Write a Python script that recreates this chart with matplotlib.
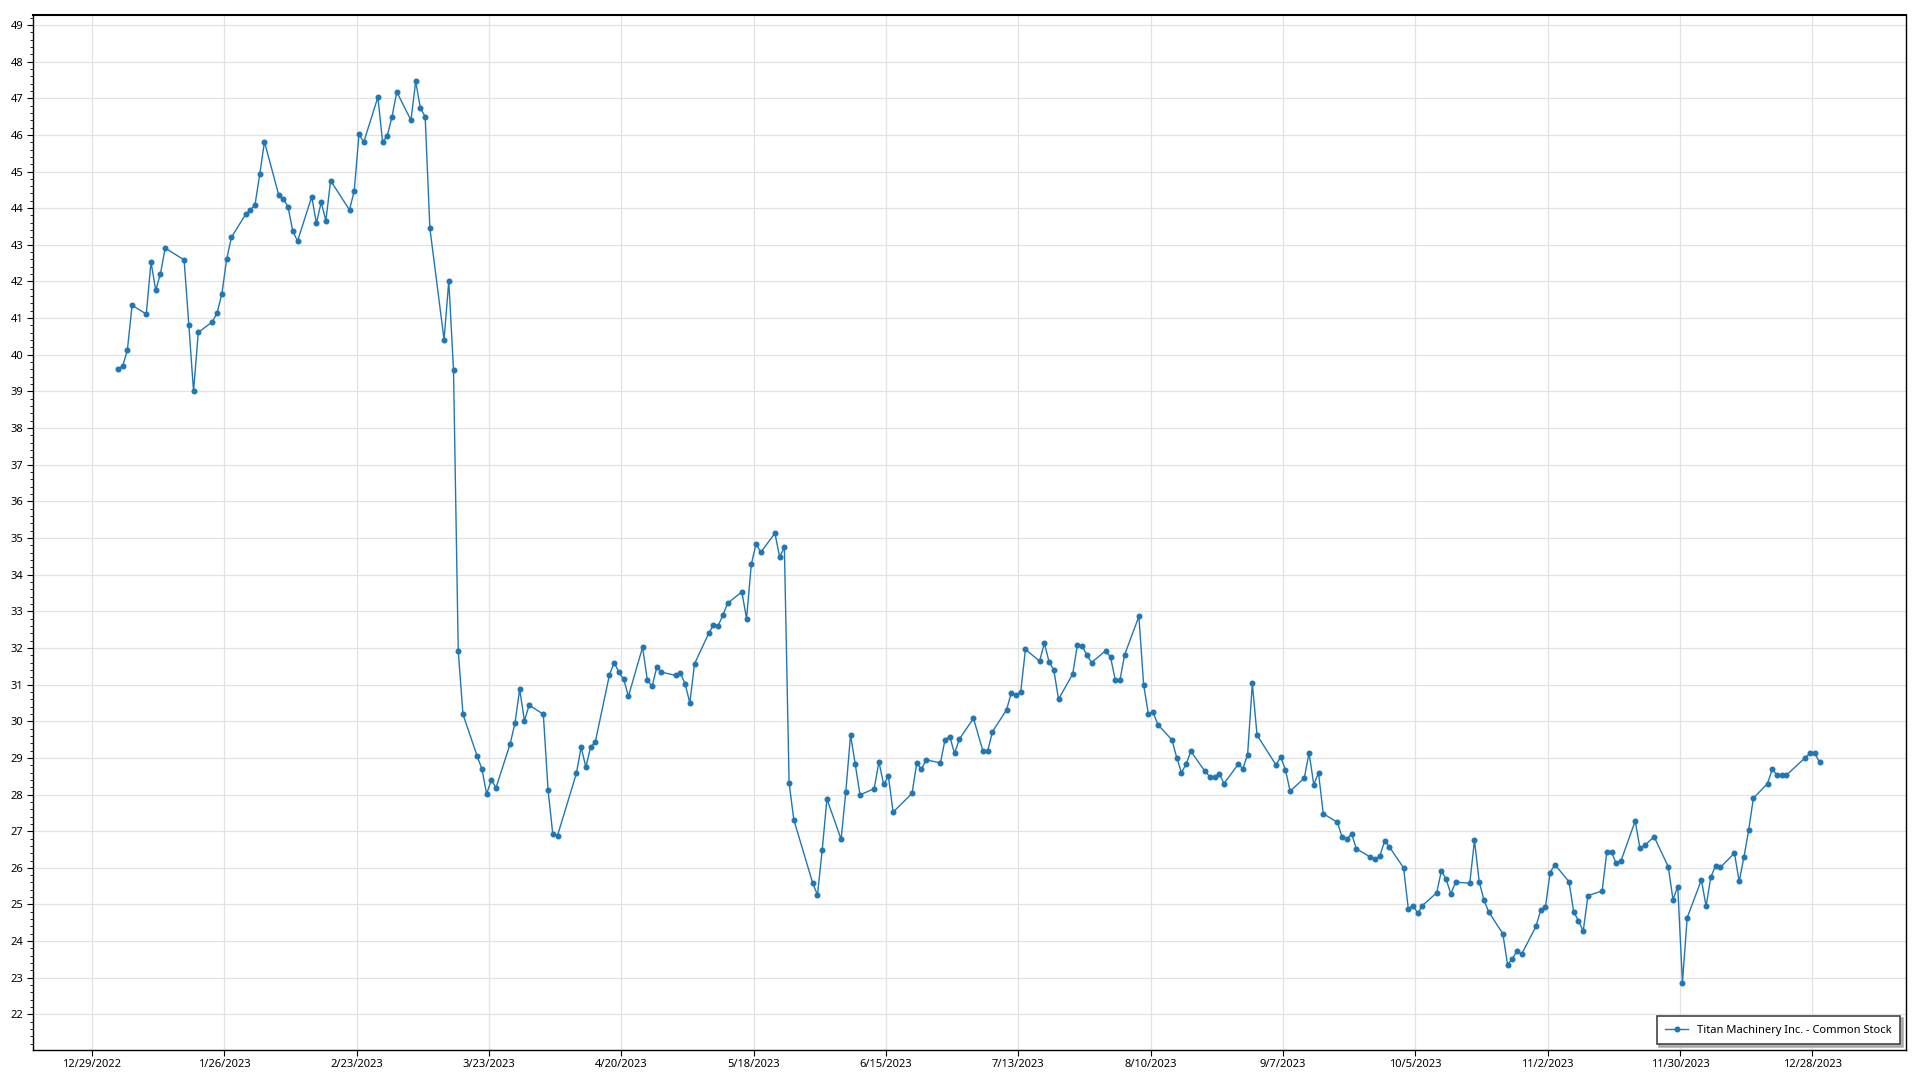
import matplotlib
matplotlib.use("Agg")
import matplotlib.pyplot as plt
import matplotlib.ticker as mticker
import numpy as np
import pandas as pd

# closing prices 2023, one list per month (trading days only)
jan = [39.61, 39.69, 40.13, 41.35, 41.11, 42.53, 41.76, 42.21, 42.91, 42.59,
       40.82, 39.00, 40.61, 40.90, 41.15, 41.67, 42.60, 43.20, 43.83, 43.95]
feb = [44.09, 44.92, 45.81, 44.37, 44.26, 44.03, 43.37, 43.10, 44.31, 43.59,
       44.16, 43.66, 44.75, 43.95, 44.48, 46.02, 45.80, 47.03, 45.80]
mar = [45.98, 46.50, 47.17, 46.40, 47.46, 46.72, 46.50, 43.45, 40.41, 42.01,
       39.59, 31.92, 30.19, 29.05, 28.70, 28.02, 28.39, 28.19, 29.39, 29.95,
       30.87, 30.01, 30.44]
apr = [30.19, 28.13, 26.92, 26.88, 28.58, 29.29, 28.75, 29.29, 29.44, 31.27,
       31.60, 31.33, 31.15, 30.68, 32.02, 31.13, 30.95, 31.47, 31.34]
may = [31.25, 31.31, 31.02, 30.50, 31.57, 32.40, 32.63, 32.61, 32.90, 33.22,
       33.53, 32.80, 34.28, 34.84, 34.61, 35.13, 34.48, 34.75, 28.31, 27.31,
       25.58, 25.26]
jun = [26.48, 27.88, 26.78, 28.08, 29.63, 28.82, 27.99, 28.16, 28.89, 28.28,
       28.50, 27.52, 28.03, 28.85, 28.69, 28.95, 28.86, 29.50, 29.58, 29.12,
       29.51]
jul = [30.08, 29.19, 29.18, 29.71, 30.31, 30.77, 30.71, 30.80, 31.96, 31.64,
       32.13, 31.62, 31.40, 30.60, 31.29, 32.09, 32.05, 31.80, 31.60, 31.93]
aug = [31.75, 31.13, 31.13, 31.82, 32.86, 31.00, 30.20, 30.25, 29.91, 29.49,
       29.01, 28.60, 28.83, 29.18, 28.63, 28.49, 28.47, 28.57, 28.30, 28.82,
       28.71, 29.09, 31.03]
sep = [29.62, 28.81, 29.02, 28.68, 28.09, 28.45, 29.14, 28.27, 28.59, 27.48,
       27.24, 26.84, 26.78, 26.93, 26.52, 26.29, 26.23, 26.33, 26.74, 26.57]
oct_ = [26.00, 24.88, 24.97, 24.76, 24.97, 25.32, 25.92, 25.69, 25.29, 25.61,
        25.58, 26.75, 25.62, 25.12, 24.80, 24.20, 23.36, 23.51, 23.74, 23.65,
        24.40, 24.84]
nov = [24.92, 25.87, 26.09, 25.62, 24.79, 24.56, 24.27, 25.24, 25.37, 26.43,
       26.42, 26.12, 26.19, 27.28, 26.54, 26.61, 26.85, 26.03, 25.13, 25.49,
       22.87]
dec = [24.64, 25.67, 24.95, 25.75, 26.05, 26.01, 26.40, 25.63, 26.29, 27.02,
       27.90, 28.30, 28.69, 28.53, 28.52, 28.53, 29.01, 29.13, 29.13, 28.88]

holidays = ['2023-01-02', '2023-01-16', '2023-02-20', '2023-04-07', '2023-05-29',
            '2023-06-19', '2023-07-04', '2023-09-04', '2023-11-23', '2023-12-25']

series_name = 'Titan Machinery Inc. - Common Stock'

prices = jan + feb + mar + apr + may + jun + jul + aug + sep + oct_ + nov + dec
dates = pd.bdate_range('2023-01-01', '2023-12-31', freq='C', holidays=holidays)
dates = dates + pd.Timedelta(hours=12)

plt.rcParams['font.family'] = ['Noto Sans', 'DejaVu Sans']

fig = plt.figure(figsize=(19.2, 10.8), dpi=100)
ax = fig.add_axes([0.0170, 0.0278, 0.9755, 0.9583])

ax.plot(dates, prices, color='#1f77b4', lw=1.0, marker='o', ms=3.3,
        mec='#1f77b4', mfc='#1f77b4', label=series_name, zorder=3)

# x axis: ticks every 28 days
xticks = pd.date_range('2022-12-29', periods=14, freq='28D')
ax.set_xticks(xticks)
ax.set_xticklabels([f'{d.month}/{d.day}/{d.year}' for d in xticks])
ax.set_xlim(pd.Timestamp('2022-12-16 11:00'), pd.Timestamp('2024-01-16 17:00'))

ax.set_ylim(21.03, 49.27)
ax.yaxis.set_major_locator(mticker.MultipleLocator(1))
ax.yaxis.set_minor_locator(mticker.MultipleLocator(0.2))

ax.grid(True, which='major', color='#e2e2e2', lw=0.9, zorder=0)
ax.set_axisbelow(True)
ax.tick_params(axis='both', which='major', labelsize=8, length=4, width=0.8,
               color='black', pad=2.5)
ax.tick_params(axis='y', which='minor', length=2, width=0.6, color='black')
for s in ax.spines.values():
    s.set_color('black')
    s.set_linewidth(1.0)
ax.spines['top'].set_linewidth(1.5)

leg = ax.legend(loc='lower right', fontsize=8, frameon=True, fancybox=False,
                shadow={'color': '#a0a0a0', 'alpha': 0.8}, borderaxespad=0.5,
                handlelength=2.0, borderpad=0.8, framealpha=1)
leg.get_frame().set_edgecolor('#444444')
leg.get_frame().set_linewidth(1.2)

fig.savefig('out.png', dpi=100)
